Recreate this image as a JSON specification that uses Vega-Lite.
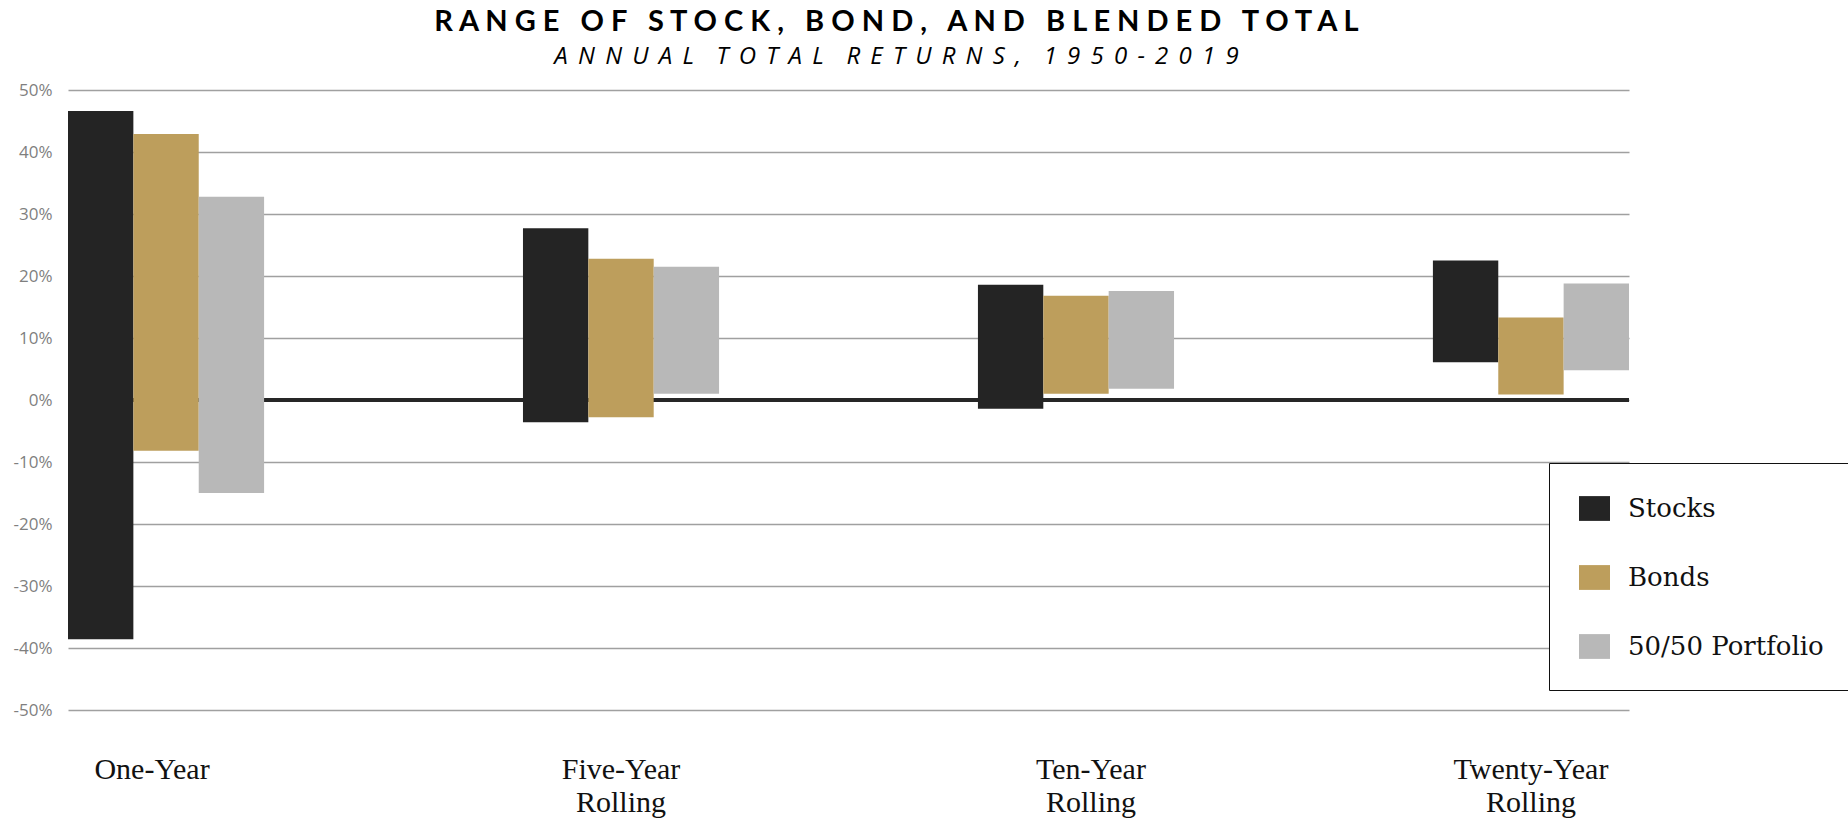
{
  "$schema": "https://vega.github.io/schema/vega-lite/v6.json",
  "width": 1561,
  "height": 620,
  "autosize": {"type": "none"},
  "padding": {"left": 68, "top": 90, "right": 219, "bottom": 110},
  "background": "white",
  "title": {
    "text": "R\u00a0A\u00a0N\u00a0G\u00a0E\u00a0\u00a0\u00a0O\u00a0F\u00a0\u00a0\u00a0S\u00a0T\u00a0O\u00a0C\u00a0K\u00a0,\u00a0\u00a0\u00a0B\u00a0O\u00a0N\u00a0D\u00a0,\u00a0\u00a0\u00a0A\u00a0N\u00a0D\u00a0\u00a0\u00a0B\u00a0L\u00a0E\u00a0N\u00a0D\u00a0E\u00a0D\u00a0\u00a0\u00a0T\u00a0O\u00a0T\u00a0A\u00a0L",
    "subtitle": "A\u00a0\u2009N\u00a0\u2009N\u00a0\u2009U\u00a0\u2009A\u00a0\u2009L\u00a0\u00a0\u00a0\u2009T\u00a0\u2009O\u00a0\u2009T\u00a0\u2009A\u00a0\u2009L\u00a0\u00a0\u00a0\u2009R\u00a0\u2009E\u00a0\u2009T\u00a0\u2009U\u00a0\u2009R\u00a0\u2009N\u00a0\u2009S\u00a0\u2009,\u00a0\u00a0\u00a0\u20091\u00a0\u20099\u00a0\u20095\u00a0\u20090\u00a0\u2009-\u00a0\u20092\u00a0\u20090\u00a0\u20091\u00a0\u20099",
    "anchor": "middle",
    "frame": "group",
    "dx": 48,
    "offset": 12,
    "font": "Lato",
    "fontSize": 29,
    "fontWeight": "bold",
    "color": "#000000",
    "subtitleFont": "Open Sans",
    "subtitleFontSize": 24,
    "subtitleFontStyle": "italic",
    "subtitleColor": "#000000",
    "subtitlePadding": 8
  },
  "data": {
    "values": [
      {"period": "One-Year", "series": "Stocks", "low": -38.6, "high": 46.6},
      {"period": "One-Year", "series": "Bonds", "low": -8.2, "high": 42.9},
      {"period": "One-Year", "series": "50/50 Portfolio", "low": -15.0, "high": 32.8},
      {"period": "Five-Year Rolling", "series": "Stocks", "low": -3.6, "high": 27.7},
      {"period": "Five-Year Rolling", "series": "Bonds", "low": -2.8, "high": 22.8},
      {"period": "Five-Year Rolling", "series": "50/50 Portfolio", "low": 1.0, "high": 21.5},
      {"period": "Ten-Year Rolling", "series": "Stocks", "low": -1.4, "high": 18.6},
      {"period": "Ten-Year Rolling", "series": "Bonds", "low": 1.0, "high": 16.8},
      {"period": "Ten-Year Rolling", "series": "50/50 Portfolio", "low": 1.8, "high": 17.6},
      {"period": "Twenty-Year Rolling", "series": "Stocks", "low": 6.1, "high": 22.5},
      {"period": "Twenty-Year Rolling", "series": "Bonds", "low": 0.9, "high": 13.3},
      {"period": "Twenty-Year Rolling", "series": "50/50 Portfolio", "low": 4.8, "high": 18.8}
    ]
  },
  "layer": [
    {
      "mark": {"type": "rule", "color": "#262626", "strokeWidth": 3},
      "encoding": {"y": {"datum": 0, "type": "quantitative"}}
    },
    {
      "mark": {"type": "bar", "opacity": 1},
      "encoding": {
        "x": {
          "field": "period",
          "type": "nominal",
          "sort": ["One-Year", "Five-Year Rolling", "Ten-Year Rolling", "Twenty-Year Rolling"],
          "scale": {"paddingInner": 0.569, "paddingOuter": 0},
          "axis": {
            "title": null,
            "labelAngle": 0,
            "labelExpr": "split(datum.label, ' ')",
            "labelFont": "Liberation Serif",
            "labelFontSize": 30,
            "labelColor": "#111111",
            "labelBaseline": "top",
            "labelLineHeight": 33,
            "labelPadding": 44,
            "labelOffset": {
              "condition": [
                {"test": "datum.value == 'One-Year'", "value": -14},
                {"test": "datum.value == 'Ten-Year Rolling'", "value": 15}
              ],
              "value": 0
            },
            "ticks": false,
            "domain": false,
            "grid": false
          }
        },
        "xOffset": {
          "field": "series",
          "type": "nominal",
          "sort": ["Stocks", "Bonds", "50/50 Portfolio"],
          "scale": {"paddingInner": 0, "paddingOuter": 0}
        },
        "y": {
          "field": "low",
          "type": "quantitative",
          "scale": {"domain": [-50, 50], "nice": false, "zero": false},
          "axis": {
            "title": null,
            "values": [-50, -40, -30, -20, -10, 0, 10, 20, 30, 40, 50],
            "labelExpr": "datum.value + '%'",
            "labelFont": "Open Sans",
            "labelFontSize": 17,
            "labelColor": "#7f7f7f",
            "labelPadding": 16,
            "ticks": false,
            "domain": false,
            "grid": true,
            "gridColor": "#a0a0a0",
            "gridWidth": 1.5
          }
        },
        "y2": {"field": "high"},
        "color": {
          "field": "series",
          "type": "nominal",
          "scale": {
            "domain": ["Stocks", "Bonds", "50/50 Portfolio"],
            "range": ["#242424", "#BD9E5C", "#B8B8B8"]
          },
          "legend": {
            "title": null,
            "orient": "none",
            "legendX": 1481,
            "legendY": 373,
            "symbolType": "M-1,-0.8H1V0.8H-1Z",
            "symbolSize": 961,
            "symbolStrokeWidth": 0,
            "symbolOpacity": 1,
            "labelFont": "DejaVu Serif",
            "labelFontSize": 26,
            "labelColor": "#111111",
            "labelOffset": 18,
            "labelLimit": 400,
            "rowPadding": 40,
            "padding": 30,
            "strokeColor": "#111111",
            "fillColor": "#ffffff"
          }
        }
      }
    }
  ],
  "config": {"view": {"stroke": null}}
}
